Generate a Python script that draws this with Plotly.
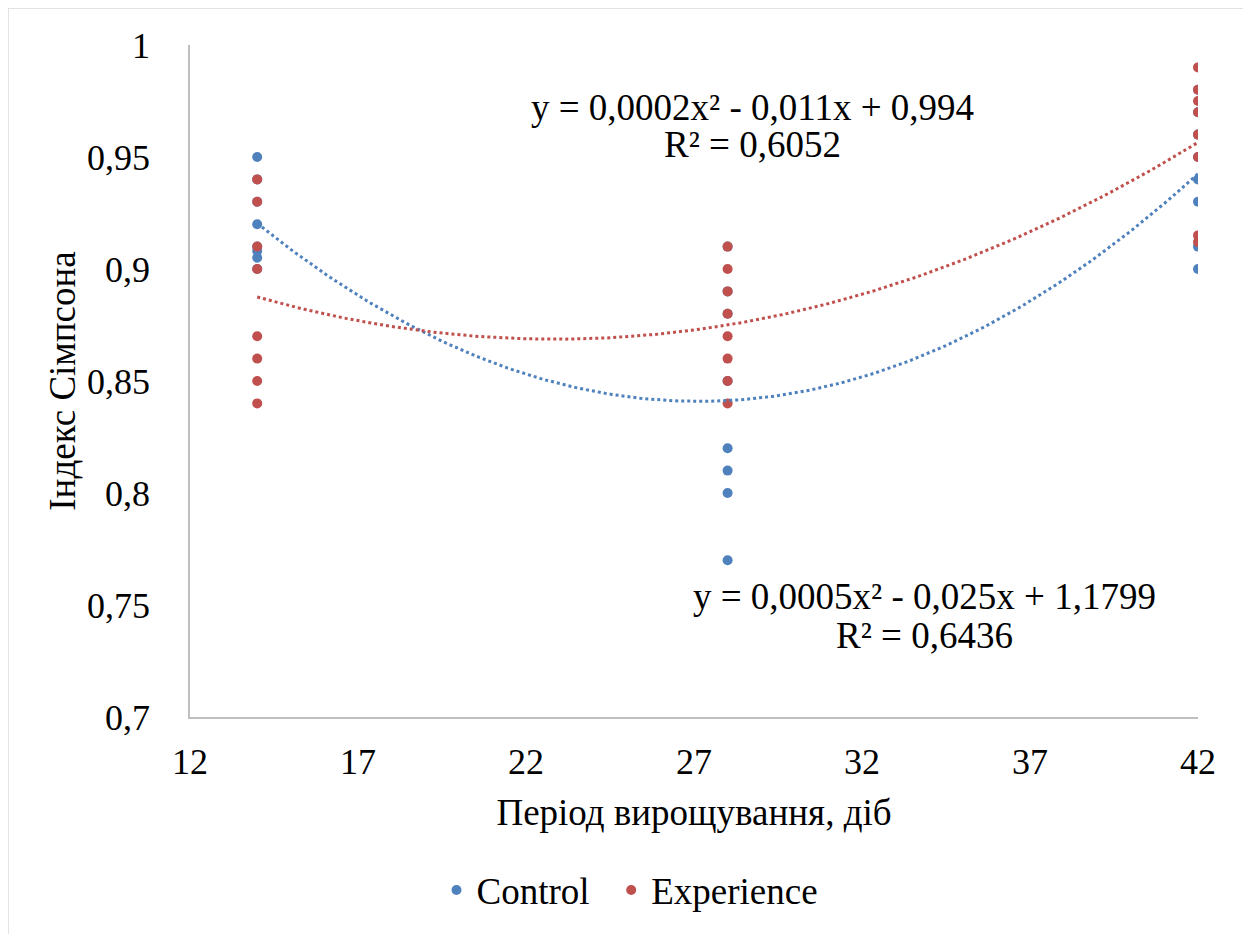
import numpy as np
import plotly.graph_objects as go

# Data (some control points hidden behind experience points)
control_x = [14]*8 + [28]*8 + [42]*8
control_y = [0.95, 0.94, 0.93, 0.92, 0.91, 0.908, 0.905, 0.90,
             0.91, 0.89, 0.88, 0.85, 0.82, 0.81, 0.80, 0.77,
             0.98, 0.97, 0.96, 0.95, 0.94, 0.93, 0.91, 0.90]
exp_x = [14]*8 + [28]*8 + [42]*8
exp_y = [0.94, 0.93, 0.91, 0.90, 0.87, 0.86, 0.85, 0.84,
         0.91, 0.90, 0.89, 0.88, 0.87, 0.86, 0.85, 0.84,
         0.99, 0.98, 0.975, 0.97, 0.96, 0.95, 0.915, 0.912]

x_ticks = [12, 17, 22, 27, 32, 37, 42]
y_ticks = [0.7, 0.75, 0.8, 0.85, 0.9, 0.95, 1.0]
y_ticktext = ["0,7", "0,75", "0,8", "0,85", "0,9", "0,95", "1"]

exp_eq = ["y = 0,0002x² - 0,011x + 0,994", "R² = 0,6052"]
ctrl_eq = ["y = 0,0005x² - 0,025x + 1,1799", "R² = 0,6436"]

BLUE = "#4F81BD"
RED = "#C0504D"
FONT = "Liberation Serif"

def trend(xs, ys):
    c = np.polyfit(xs, ys, 2)
    xx = np.linspace(min(xs), max(xs), 200)
    return xx, np.polyval(c, xx)

fig = go.Figure()
cx, cy = trend(control_x, control_y)
ex, ey = trend(exp_x, exp_y)

fig.add_trace(go.Scatter(x=control_x, y=control_y, mode="markers",
                         name="Control\u00a0\u2009",
                         marker=dict(color=BLUE, size=10)))
fig.add_trace(go.Scatter(x=exp_x, y=exp_y, mode="markers", name="Experience",
                         marker=dict(color=RED, size=10)))
fig.add_trace(go.Scatter(x=cx, y=cy, mode="lines", showlegend=False,
                         line=dict(color=BLUE, width=3, dash="dot"), hoverinfo="skip"))
fig.add_trace(go.Scatter(x=ex, y=ey, mode="lines", showlegend=False,
                         line=dict(color=RED, width=3, dash="dot"), hoverinfo="skip"))

eq_font = dict(family=FONT, size=37, color="black")
for txt, yy in zip(exp_eq, [0.9719, 0.9554]):
    fig.add_annotation(x=28.73, y=yy, xref="x", yref="y", text=txt, showarrow=False,
                       font=eq_font, align="center")
for txt, yy in zip(ctrl_eq, [0.7536, 0.7362]):
    fig.add_annotation(x=33.85, y=yy, xref="x", yref="y", text=txt, showarrow=False,
                       font=eq_font, align="center")

# outer chart border
fig.add_shape(type="rect", xref="paper", yref="paper",
              x0=-0.1806, x1=1.0476, y0=-0.36, y1=1.0551,
              line=dict(color="#D9D9D9", width=1.5))

fig.update_layout(
    width=1251, height=934,
    margin=dict(l=182, r=61, t=37, b=225),
    paper_bgcolor="white", plot_bgcolor="white",
    font=dict(family=FONT, size=36, color="black"),
    showlegend=True,
    legend=dict(orientation="h", x=0.4365, xanchor="center", y=-0.212, yanchor="top",
                font=dict(family=FONT, size=37), itemwidth=30),
)
fig.update_xaxes(range=[12, 42], tickvals=x_ticks, ticktext=[str(v) for v in x_ticks],
                 showgrid=False, zeroline=False, showline=True, linecolor="#BFBFBF",
                 linewidth=1.5, ticks="", ticklabelstandoff=12, automargin=False,
                 title=dict(text="Період вирощування, діб", standoff=18,
                            font=dict(family=FONT, size=37)))
fig.update_yaxes(range=[0.7, 1.0], tickvals=y_ticks, ticktext=y_ticktext,
                 showgrid=False, zeroline=False, showline=True, linecolor="#BFBFBF",
                 linewidth=1.5, ticks="", ticklabelstandoff=31, automargin=False,
                 title=dict(text="Індекс Сімпсона", standoff=0,
                            font=dict(family=FONT, size=37)))

fig.write_html("out.html")
